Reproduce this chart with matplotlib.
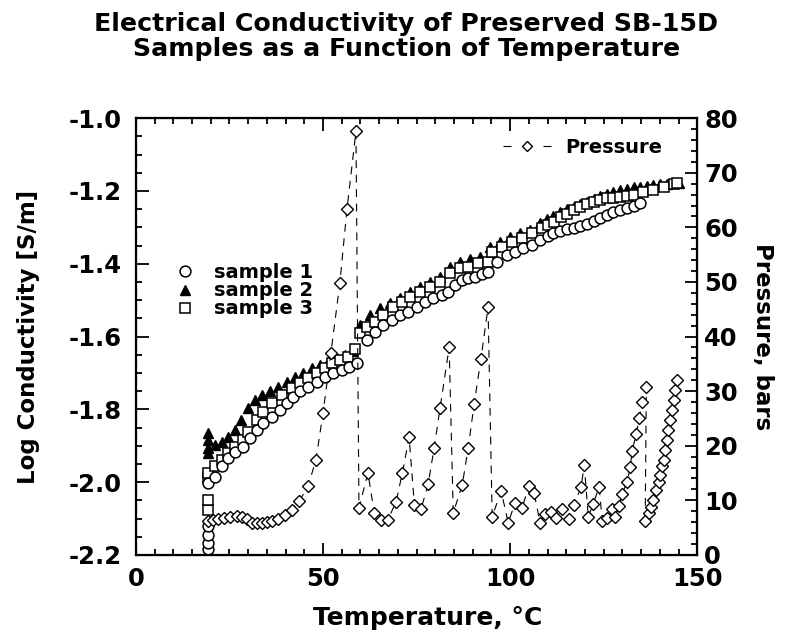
import matplotlib
matplotlib.use("Agg")
import matplotlib.pyplot as plt
from matplotlib.lines import Line2D
from matplotlib.ticker import MultipleLocator, FormatStrFormatter

plt.rcParams['font.family'] = ['DejaVu Sans']
plt.rcParams['font.weight'] = 'bold'

# sample 1 (open circles)
t1 = [19.3, 19.3, 19.3, 19.3, 19.3, 21.1, 22.9, 24.7, 26.5, 28.7, 30.5, 32.3, 34.0,
      36.3, 38.5, 40.3, 42.1, 43.9, 46.1, 48.3, 50.5, 52.7, 55.0, 56.9, 59.0,
      61.7, 63.9, 66.1, 68.3, 70.6, 72.8, 75.0, 77.3, 79.5, 81.7, 83.5, 85.3,
      87.1, 88.8, 90.6, 92.4, 94.2, 96.4, 99.1, 101.3, 103.5, 105.8, 108.0,
      110.2, 111.5, 113.3, 115.2, 117.0, 118.7, 120.5, 122.3, 124.0, 125.8,
      127.6, 129.4, 131.2, 133.0, 134.6]
s1 = [-2.185, -2.168, -2.145, -2.12, -2.003, -1.985, -1.957, -1.934, -1.916, -1.903,
      -1.880, -1.857, -1.838, -1.820, -1.802, -1.783, -1.765, -1.751, -1.738,
      -1.724, -1.710, -1.701, -1.692, -1.683, -1.672,
      -1.610, -1.587, -1.568, -1.555, -1.541, -1.532, -1.518, -1.504, -1.495,
      -1.486, -1.477, -1.458, -1.445, -1.440, -1.436, -1.428, -1.422, -1.394,
      -1.376, -1.367, -1.358, -1.349, -1.335, -1.324, -1.316, -1.311, -1.305,
      -1.301, -1.297, -1.290, -1.282, -1.274, -1.266, -1.259, -1.253, -1.248,
      -1.242, -1.234]

# sample 2 (filled triangles)
t2 = [19.3, 19.3, 19.3, 19.3, 21.1, 22.9, 24.7, 26.5, 28.2, 30.0, 31.8, 33.6, 35.8,
      38.0, 40.3, 42.5, 44.7, 47.0, 49.2, 51.4, 53.6, 55.9, 58.1,
      59.9, 62.6, 65.2, 67.9, 70.6, 73.3, 75.9, 78.6, 81.3, 84.0, 86.6, 89.3,
      92.0, 94.7, 97.3, 100.0, 102.7, 105.3, 108.0, 109.8, 111.5, 113.3, 115.2,
      117.0, 118.7, 120.5, 122.3, 124.0, 125.8, 127.6, 129.4, 131.2, 133.0,
      134.8, 136.5, 138.3, 140.1, 141.9, 143.7, 145.0]
s2 = [-1.866, -1.885, -1.905, -1.92, -1.898, -1.889, -1.875, -1.857, -1.829, -1.797,
      -1.774, -1.761, -1.751, -1.738, -1.724, -1.710, -1.701, -1.687, -1.678,
      -1.669, -1.660, -1.651, -1.641,
      -1.568, -1.541, -1.522, -1.509, -1.495, -1.477, -1.463, -1.449, -1.437,
      -1.408, -1.394, -1.388, -1.381, -1.353, -1.340, -1.326, -1.316, -1.307,
      -1.288, -1.276, -1.268, -1.257, -1.250, -1.243, -1.236, -1.229, -1.222,
      -1.215, -1.209, -1.203, -1.198, -1.194, -1.190, -1.188, -1.186, -1.183,
      -1.181, -1.180, -1.179, -1.178]

# sample 3 (open squares)
t3 = [19.3, 19.3, 19.3, 19.3, 21.1, 22.9, 24.7, 26.5, 28.7, 30.0, 32.3, 34.0, 36.3,
      38.9, 41.6, 43.9, 46.1, 48.3, 50.5, 52.3, 54.5, 56.8, 58.6,
      59.9, 61.7, 63.9, 66.1, 68.8, 71.0, 73.3, 75.9, 78.6, 81.3, 84.0, 86.6,
      88.8, 91.5, 94.2, 95.1, 97.8, 100.4, 103.1, 105.8, 108.5, 110.2, 111.8,
      113.5, 115.2, 117.0, 118.7, 120.5, 122.3, 124.0, 125.8, 127.6, 129.4,
      131.2, 133.0, 135.6, 138.3, 141.0, 143.7, 144.6]
s3 = [-2.076, -2.05, -1.99, -1.976, -1.957, -1.940, -1.921, -1.903, -1.884, -1.861,
      -1.829, -1.806, -1.783, -1.761, -1.742, -1.728, -1.715, -1.701, -1.687,
      -1.673, -1.665, -1.655, -1.635,
      -1.591, -1.573, -1.559, -1.541, -1.518, -1.504, -1.490, -1.477, -1.463,
      -1.449, -1.426, -1.413, -1.408, -1.399, -1.394, -1.367, -1.353, -1.340,
      -1.330, -1.316, -1.303, -1.294, -1.285, -1.272, -1.262, -1.252, -1.243,
      -1.236, -1.230, -1.225, -1.220, -1.218, -1.216, -1.213, -1.211, -1.202,
      -1.198, -1.188, -1.182, -1.179]

# pressure, bars (diamonds, dashed)
tp = [19.3, 20.7, 22.0, 23.5, 25.1, 26.9, 28.4, 29.7, 30.9, 32.3, 33.6, 34.9,
      36.3, 38.0, 39.8, 41.8, 43.7, 46.0, 48.1, 50.0, 52.1, 54.5, 56.4, 58.8,
      59.6, 62.0, 63.7, 65.4, 67.3, 69.5, 71.2, 73.0, 74.4, 76.2, 78.1, 79.7,
      81.3, 83.7, 84.8, 87.2, 88.8, 90.4, 92.2, 94.1, 95.2, 97.6, 99.5, 101.3,
      103.2, 105.0, 106.4, 108.0, 109.4, 110.9, 112.3, 113.9, 115.8, 117.1,
      119.0, 119.8, 120.9, 122.2, 123.8, 124.6, 126.0, 127.3, 128.1, 129.1,
      129.9, 131.3, 132.1, 132.6, 133.7, 134.5, 135.3, 136.4, 136.1, 137.0,
      137.7, 138.3, 139.0, 139.7, 140.1, 140.6, 141.0, 141.4, 141.9, 142.3,
      142.8, 143.2, 143.7, 144.1, 144.6]
pres = [6.3, 6.4, 6.5, 6.7, 6.9, 7.1, 7.0, 6.5, 5.9, 5.8, 5.9, 6.1,
        6.3, 6.6, 7.3, 8.2, 9.9, 12.6, 17.4, 26.0, 37.0, 49.8, 63.4, 77.6,
        8.6, 15.0, 7.7, 6.4, 6.4, 9.7, 15.0, 21.6, 9.2, 8.4, 13.0, 19.6,
        27.0, 38.0, 7.7, 12.8, 19.6, 27.7, 35.9, 45.4, 7.0, 11.7, 5.9, 9.5,
        8.6, 12.6, 11.4, 5.9, 7.5, 7.9, 6.8, 8.4, 6.6, 9.2,
        12.5, 16.5, 7.0, 9.3, 12.5, 6.2, 6.8, 8.4, 7.0, 9.0,
        11.2, 13.4, 16.1, 19.0, 22.2, 25.1, 28.0, 30.8, 6.2, 7.6,
        8.8, 10.1, 11.9, 13.4, 14.7, 16.2, 17.4, 19.2, 21.1, 22.9,
        24.7, 26.6, 28.4, 30.2, 32.0]

fig = plt.figure(figsize=(7.95, 6.32), dpi=100)
ax = fig.add_axes([0.171, 0.122, 0.706, 0.691])

ax.plot(t2, s2, ls='none', marker='^', ms=7.5, mfc='black', mec='black')
ax.plot(t3, s3, ls='none', marker='s', ms=7.5, mfc='white', mec='black', mew=1.1)
ax.plot(t1, s1, ls='none', marker='o', ms=7.8, mfc='white', mec='black', mew=1.1)

ax.set_xlim(0, 150)
ax.set_ylim(-2.2, -1.0)
ax.xaxis.set_major_locator(MultipleLocator(50))
ax.xaxis.set_minor_locator(MultipleLocator(5))
ax.yaxis.set_major_locator(MultipleLocator(0.2))
ax.yaxis.set_minor_locator(MultipleLocator(0.05))
ax.yaxis.set_major_formatter(FormatStrFormatter('%.1f'))
ax.tick_params(which='both', direction='in', top=True, right=False, width=1.3)
ax.tick_params(which='major', length=9, labelsize=17.5)
ax.tick_params(axis='y', which='major', pad=10)
ax.tick_params(axis='x', which='major', pad=9)
ax.tick_params(which='minor', length=4.5)
for s in ax.spines.values():
    s.set_linewidth(1.6)
ax.set_xlabel('Temperature, °C', fontsize=18, fontweight='bold')
ax.xaxis.set_label_coords(0.52, -0.118)
ax.set_ylabel('Log Conductivity [S/m]', fontsize=16.5, fontweight='bold')
ax.yaxis.set_label_coords(-0.171, 0.5)

ax2 = ax.twinx()
ax2.plot(tp, pres, color='black', lw=0.8, dashes=(7, 6), marker='D', ms=6,
         mfc='white', mec='black', mew=1.0)
ax2.set_ylim(0, 80)
ax2.yaxis.set_major_locator(MultipleLocator(10))
ax2.yaxis.set_minor_locator(MultipleLocator(2))
ax2.tick_params(which='both', direction='in', width=1.3)
ax2.tick_params(which='major', length=9, labelsize=17.5, pad=5)
ax2.tick_params(which='minor', length=4.5)
ax2.set_ylabel('Pressure, bars', fontsize=16.5, fontweight='bold', rotation=270)
ax2.yaxis.set_label_coords(1.137, 0.5)

h1 = Line2D([], [], ls='none', marker='o', ms=7.8, mfc='white', mec='black', mew=1.1)
h2 = Line2D([], [], ls='none', marker='^', ms=7.5, color='black')
h3 = Line2D([], [], ls='none', marker='s', ms=7.5, mfc='white', mec='black', mew=1.1)
ax2.legend([h1, h2, h3], ['sample 1', 'sample 2', 'sample 3'], loc='upper left',
           bbox_to_anchor=(0.056, 0.69), frameon=False, fontsize=14,
           handlelength=0.8, handletextpad=1.1, labelspacing=-0.05, borderpad=0)

hp = Line2D([], [], color='black', lw=0.8, dashes=(7.2, 28.8), marker='D', ms=5,
            mfc='white', mec='black')
fig.legend([hp], ['Pressure'], loc='center left', bbox_to_anchor=(0.633, 0.767),
           frameon=False, fontsize=14, handlelength=2.45, handletextpad=0.75,
           borderpad=0, borderaxespad=0)

fig.text(0.511, 0.942, 'Electrical Conductivity of Preserved SB-15D\nSamples as a Function of Temperature',
         ha='center', va='center', fontsize=18.2, fontweight='bold', linespacing=1.05)

fig.savefig('out.png', dpi=100)
